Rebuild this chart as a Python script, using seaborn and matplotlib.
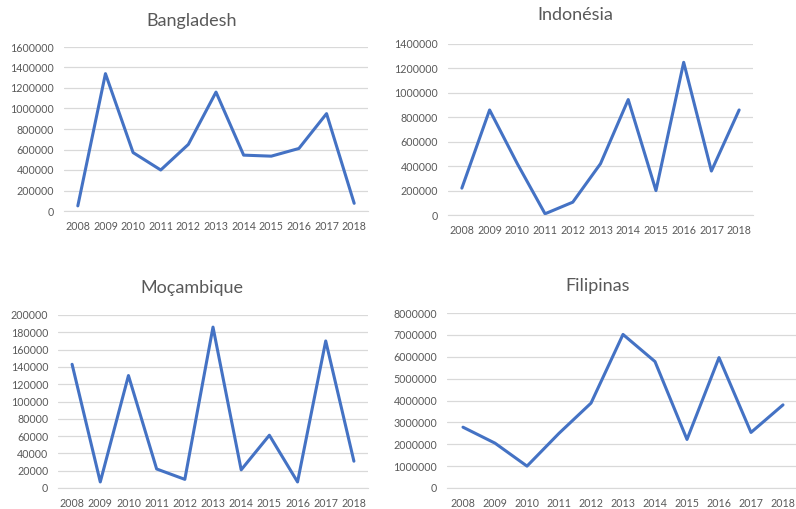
import numpy as np
import pandas as pd
import matplotlib
matplotlib.use("Agg")
import matplotlib.pyplot as plt
import seaborn as sns

sns.set_style("white")
plt.rcParams["font.family"] = ["Lato", "DejaVu Sans"]

years = [2008, 2009, 2010, 2011, 2012, 2013, 2014, 2015, 2016, 2017, 2018]
bangladesh = [50000, 1340000, 570000, 400000, 650000, 1160000, 545000, 535000, 610000, 950000, 75000]
indonesia = [220000, 860000, 420000, 10000, 105000, 420000, 945000, 200000, 1250000, 360000, 860000]
mocambique = [143000, 7000, 130000, 22000, 10000, 186000, 21000, 61000, 7000, 170000, 31000]
filipinas = [2780000, 2050000, 1000000, 2500000, 3880000, 7020000, 5780000, 2220000, 5960000, 2540000, 3800000]

countries = ["Bangladesh", "Indonésia", "Moçambique", "Filipinas"]
y_max = [1600000, 1400000, 200000, 8000000]
y_step = [200000, 200000, 20000, 1000000]

df = pd.DataFrame({
    "year": [str(y) for y in years] * 4,
    "value": bangladesh + indonesia + mocambique + filipinas,
    "country": np.repeat(countries, len(years)),
})

# axes boxes in pixels: left, right, top, bottom
boxes = [(64, 368, 47, 211), (448, 753, 44, 215), (58, 368, 315, 488), (447, 799, 313, 488)]
title_pos = [(192, 21), (575, 15), (192, 288), (598, 286)]

W, H = 796, 509
fig = plt.figure(figsize=(W / 100, H / 100), dpi=100)
gray = "#595959"

for i, c in enumerate(countries):
    l, r, t, b = boxes[i]
    ax = fig.add_axes([l / W, 1 - b / H, (r - l) / W, (b - t) / H])
    sub = df[df["country"] == c]
    sns.lineplot(data=sub, x="year", y="value", ax=ax, color="#4472C4", linewidth=2.2, sort=False)
    ax.set_xlim(-0.5, len(years) - 0.5)
    ax.set_ylim(0, y_max[i])
    ax.set_yticks(np.arange(0, y_max[i] + 1, y_step[i]))
    ax.yaxis.set_major_formatter(matplotlib.ticker.FuncFormatter(lambda v, p: f"{int(v)}"))
    ax.grid(axis="y", color="#D9D9D9", linewidth=0.9)
    ax.set_axisbelow(True)
    for s in ["top", "right", "left"]:
        ax.spines[s].set_visible(False)
    ax.spines["bottom"].set_color("#D9D9D9")
    ax.tick_params(axis="both", length=0, labelsize=7.7, colors=gray)
    ax.tick_params(axis="x", pad=7.5)
    ax.tick_params(axis="y", pad=7)
    ax.set_xlabel("")
    ax.set_ylabel("")
    tx, ty = title_pos[i]
    fig.text(tx / W, 1 - ty / H, c, ha="center", va="center", fontsize=13, color=gray)

plt.savefig("out.png", dpi=100)
